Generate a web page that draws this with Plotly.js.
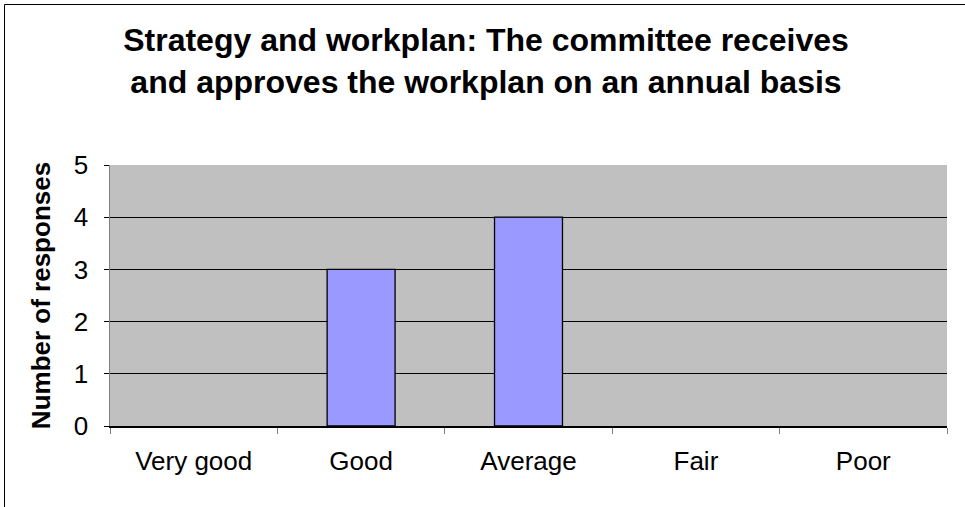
<!DOCTYPE html>
<html>
<head>
<meta charset="utf-8">
<script src="https://cdn.plot.ly/plotly-3.0.1.min.js"></script>
<style>
html,body{margin:0;padding:0;background:#fff;}
#chart{width:965px;height:507px;}
</style>
</head>
<body>
<div id="chart"></div>
<script>
const categories = ["Very good", "Good", "Average", "Fair", "Poor"];
const responses = [0, 3, 4, 0, 0];
const yTicks = [0, 1, 2, 3, 4, 5];
const chartTitle = "Strategy and workplan: The committee receives<br>and approves the workplan on an annual basis";
const yTitle = "Number of responses";

const font = "Liberation Sans, Arial, sans-serif";

Plotly.newPlot("chart", [{
  type: "bar",
  x: categories,
  y: responses,
  marker: {color: "#9999FF", line: {color: "#000000", width: responses.map(v => v > 0 ? 1.3 : 0)}},
  hoverinfo: "skip"
}], {
  width: 965, height: 507,
  margin: {l: 110, r: 18, t: 165, b: 81, pad: 0},
  paper_bgcolor: "#FFFFFF",
  plot_bgcolor: "#C0C0C0",
  bargap: 0.594,
  showlegend: false,
  title: {
    text: "<b>" + chartTitle + "</b>",
    font: {family: font, size: 32, color: "#000"},
    x: 486/965, xref: "container", xanchor: "center",
    y: 1 - 51/507, yref: "container", yanchor: "middle"
  },
  xaxis: {
    type: "category",
    tickson: "boundaries",
    ticks: "outside", ticklen: 6, tickcolor: "#808080", tickwidth: 1,
    showline: true, linecolor: "#000000", linewidth: 1.5,
    showgrid: false, zeroline: false,
    tickfont: {family: font, size: 26, color: "#000"},
    ticklabelstandoff: 11,
    fixedrange: true
  },
  yaxis: {
    range: [0, 5],
    tickvals: yTicks,
    ticks: "outside", ticklen: 5, tickcolor: "#000", tickwidth: 1,
    showline: true, linecolor: "#808080", linewidth: 1.5,
    showgrid: true, gridcolor: "#000000", gridwidth: 1,
    zeroline: false,
    tickfont: {family: font, size: 26, color: "#000"},
    ticklabelstandoff: 10,
    title: {text: "<b>" + yTitle + "</b>", font: {family: font, size: 26, color: "#000"}, standoff: 15},
    fixedrange: true
  },
  shapes: [{
    type: "rect", xref: "paper", yref: "paper",
    x0: (4.5 - 110) / 837, x1: 1.5,
    y0: -1, y1: 1 + (165 - 4.5) / 261,
    line: {color: "#000000", width: 1}, fillcolor: "rgba(0,0,0,0)", layer: "above"
  }]
}, {displayModeBar: false, staticPlot: true});
</script>
</body>
</html>
